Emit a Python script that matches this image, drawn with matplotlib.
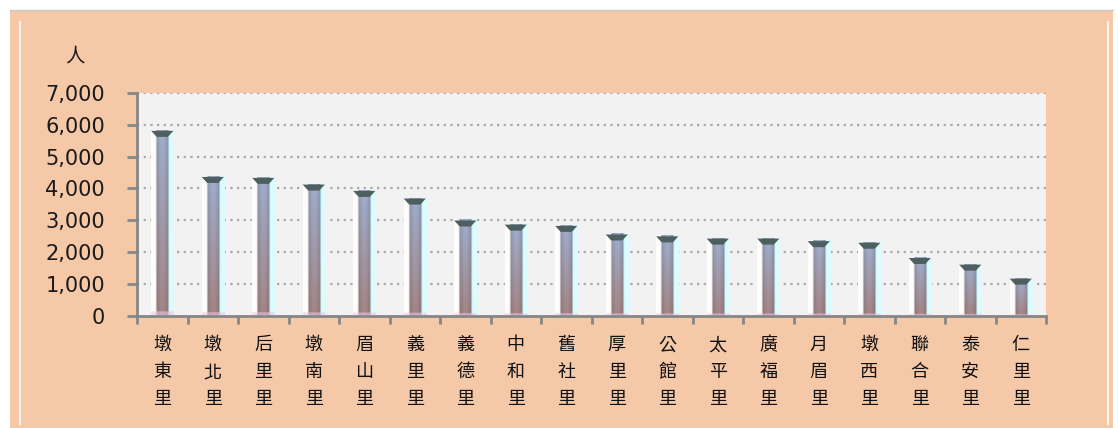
import numpy as np
import matplotlib
matplotlib.use("Agg")
import matplotlib.pyplot as plt
from matplotlib.patches import Rectangle, Polygon

plt.rcParams['font.family'] = ['Noto Sans CJK TC', 'DejaVu Sans']

# 村里人口
villages = ['墩東里', '墩北里', '后里里', '墩南里', '眉山里', '義里里', '義德里', '中和里', '舊社里',
            '厚里里', '公館里', '太平里', '廣福里', '月眉里', '墩西里', '聯合里', '泰安里', '仁里里']
population = [5810, 4360, 4330, 4120, 3920, 3680, 2990, 2860, 2820,
              2550, 2490, 2420, 2420, 2340, 2290, 1810, 1600, 1160]
yticks = [0, 1000, 2000, 3000, 4000, 5000, 6000, 7000]

PEACH = '#F5C8A8'
AXCOL = '#868686'

fig = plt.figure(figsize=(11.18, 4.28), dpi=100)
fig.patch.set_facecolor('white')

# frame background
fig.add_artist(Rectangle((10/1118, 0), 1103/1118, 1 - 10/428, transform=fig.transFigure,
                         facecolor=PEACH, edgecolor='none', zorder=0))
fig.add_artist(plt.Line2D([10/1118, 1113/1118], [1 - 9.5/428] * 2, transform=fig.transFigure,
                          color='#C8C8C8', lw=1))
fig.add_artist(plt.Line2D([20/1118] * 2, [0.01, 1 - 22/428], transform=fig.transFigure,
                          color='#FFF3EA', lw=1.5))
fig.add_artist(plt.Line2D([1108/1118] * 2, [0.01, 1 - 22/428], transform=fig.transFigure,
                          color='#FFF3EA', lw=1.5))

ax = fig.add_axes([137/1118, 1 - 315.5/428, 909/1118, 222.5/428])
ax.set_facecolor('#F2F2F2')

# bar body gradient image
def bar_image():
    nu, nt = 60, 200
    u = np.linspace(0, 1, nu)
    t = np.linspace(1, 0, nt)[:, None]  # top -> bottom
    top = np.array([0.60, 0.66, 0.78])
    bot = np.array([0.62, 0.50, 0.50])
    center = top * t + bot * (1 - t)
    white = np.array([1.0, 0.99, 0.99])
    cyan = np.array([0.86, 0.99, 1.0])
    dark = center * 0.75
    img = np.empty((nt, nu, 3))
    for j, uu in enumerate(u):
        if uu < 0.20:
            c = white * np.ones((nt, 3))
        elif uu < 0.27:
            k = (uu - 0.20) / 0.07
            c = white * (1 - k) + dark * k
        elif uu < 0.72:
            k = (uu - 0.27) / 0.45
            c = center * (0.92 + 0.12 * np.sin(np.pi * k))
        elif uu < 0.80:
            k = (uu - 0.72) / 0.08
            c = dark * (1 - k) + cyan * k
        else:
            c = cyan * np.ones((nt, 3))
        img[:, j] = np.clip(c, 0, 1)
    # pinkish foot
    img[-4:, :] = img[-4:, :] * 0.4 + np.array([0.92, 0.78, 0.9]) * 0.6
    return img

img = bar_image()
w = 0.44
px_per_unit = 31.6 / 1000
cap_h = 6 / px_per_unit
x = np.arange(len(villages))
bars = ax.bar(x, population, width=w, color='none', edgecolor='none', zorder=3)
for b, v in zip(bars, population):
    x0, x1 = b.get_x(), b.get_x() + b.get_width()
    ax.imshow(img, extent=(x0, x1, 0, v), aspect='auto', interpolation='bilinear', zorder=3)
    ins = b.get_width() * 0.25
    ax.add_patch(Polygon([(x0, v), (x1, v), (x1 - ins, v - cap_h), (x0 + ins, v - cap_h)],
                         closed=True, facecolor='#4E5F5F', edgecolor='none', zorder=4))

ax.set_xlim(-0.5, len(villages) - 0.5)
ax.set_ylim(0, 7000)

ax.set_yticks(yticks)
ax.set_yticklabels([f'{v:,}' for v in yticks], family='DejaVu Sans', fontsize=15, color='#1A1A1A')
ax.tick_params(axis='y', length=7, width=2, color=AXCOL, pad=16)
for v in yticks[1:]:
    ax.axhline(v, color='#A8A8A8', lw=1.6, ls=(0, (1, 2)), zorder=1)

ax.set_xticks(x)
ax.set_xticklabels(['\n'.join(s) for s in villages], fontsize=13, color='#111111',
                   linespacing=1.62, fontweight='medium')
ax.tick_params(axis='x', length=0, pad=15)
ax.set_xticks(np.arange(-0.5, len(villages)), minor=True)
ax.tick_params(axis='x', which='minor', length=6, width=2, color=AXCOL)

for s in ['top', 'right']:
    ax.spines[s].set_visible(False)
for s in ['left', 'bottom']:
    ax.spines[s].set_color(AXCOL)
    ax.spines[s].set_linewidth(2)

fig.text(75/1118, 1 - 56/428, '人', fontsize=14, ha='center', va='center', color='#1A1A1A')

fig.savefig('out.png', dpi=100)
